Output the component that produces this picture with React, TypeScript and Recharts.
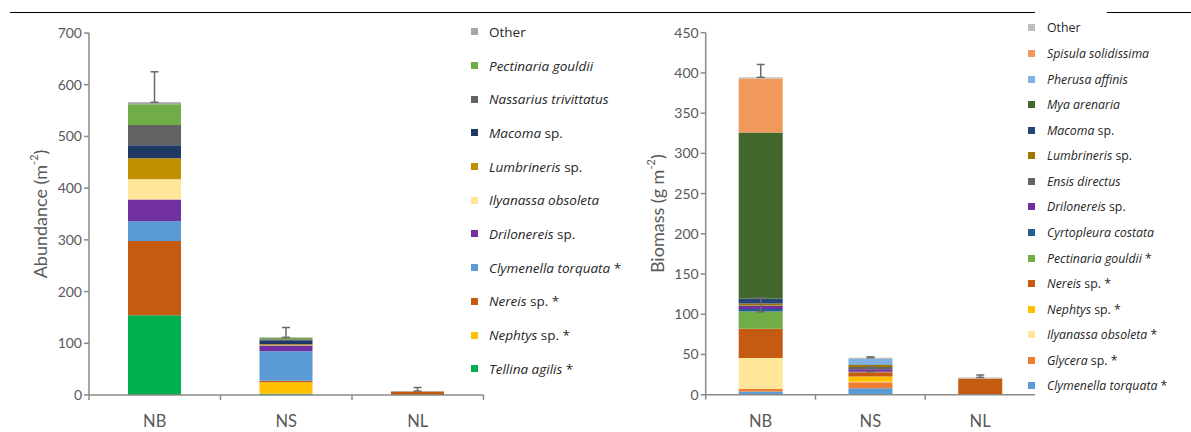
import { Bar, BarChart, ErrorBar, Legend, XAxis, YAxis } from 'recharts'

const FONT = 'Lato, "Open Sans", sans-serif'
const LEGEND_FONT = '"Open Sans", sans-serif'
const AXIS = '#8a8a8a'
const TEXT = '#595959'

const categories = ['NB', 'NS', 'NL']

// abundance (m-2), stacked bottom -> top
const abTellina = [154, 2.5, 0]
const abNephtys = [0, 22, 0]
const abNereis = [144, 3, 7]
const abClymenella = [38, 57, 0]
const abDrilonereis = [42, 11, 0]
const abIlyanassa = [39, 0.5, 0]
const abLumbrineris = [41, 2, 0]
const abMacoma = [25, 8, 0]
const abNassarius = [39, 2, 0]
const abPectinaria = [40, 2.5, 0]
const abOther = [4, 1, 0.5]
const abError = [59, 19, 7]
const abTicks = [0, 100, 200, 300, 400, 500, 600, 700]

// biomass (g m-2), stacked bottom -> top
const bmClymenella = [4, 8, 0]
const bmGlycera = [3, 7.5, 0]
const bmIlyanassa = [38.5, 0.5, 0]
const bmNephtys = [0, 6.5, 0]
const bmNereis = [36.5, 5.5, 20]
const bmPectinaria = [21.5, 0.5, 0]
const bmCyrtopleura = [3, 0, 0]
const bmDrilonereis = [4, 3, 0]
const bmEnsis = [0.5, 3, 0]
const bmLumbrineris = [2.5, 2.5, 0]
const bmMacoma = [6, 0.5, 0]
const bmMya = [206.5, 0, 0]
const bmPherusa = [0, 7, 0]
const bmSpisula = [67, 0, 0]
const bmOther = [1.5, 1.5, 1.5]
const bmError = [16, 1, 3]
const bmInnerError: ([number, number] | null)[] = [[7.5, 10], [3, 3], null]
const bmTicks = [0, 50, 100, 150, 200, 250, 300, 350, 400, 450]

type Series = { key: string; it: string; rest: string; color: string; values: number[] }

const abSeries: Series[] = [
  { key: 'tellina', it: 'Tellina agilis', rest: ' *', color: '#00B050', values: abTellina },
  { key: 'nephtys', it: 'Nephtys', rest: ' sp. *', color: '#FFC000', values: abNephtys },
  { key: 'nereis', it: 'Nereis', rest: ' sp. *', color: '#C55A11', values: abNereis },
  { key: 'clymenella', it: 'Clymenella torquata', rest: ' *', color: '#5B9BD5', values: abClymenella },
  { key: 'drilonereis', it: 'Drilonereis', rest: ' sp.', color: '#7030A0', values: abDrilonereis },
  { key: 'ilyanassa', it: 'Ilyanassa obsoleta', rest: '', color: '#FFE699', values: abIlyanassa },
  { key: 'lumbrineris', it: 'Lumbrineris', rest: ' sp.', color: '#BF9000', values: abLumbrineris },
  { key: 'macoma', it: 'Macoma', rest: ' sp.', color: '#203864', values: abMacoma },
  { key: 'nassarius', it: 'Nassarius trivittatus', rest: '', color: '#636363', values: abNassarius },
  { key: 'pectinaria', it: 'Pectinaria gouldii', rest: '', color: '#70AD47', values: abPectinaria },
  { key: 'other', it: '', rest: 'Other', color: '#A5A5A5', values: abOther },
]

const bmSeries: Series[] = [
  { key: 'clymenella', it: 'Clymenella torquata', rest: ' *', color: '#5B9BD5', values: bmClymenella },
  { key: 'glycera', it: 'Glycera', rest: ' sp. *', color: '#ED7D31', values: bmGlycera },
  { key: 'ilyanassa', it: 'Ilyanassa obsoleta', rest: ' *', color: '#FFE699', values: bmIlyanassa },
  { key: 'nephtys', it: 'Nephtys', rest: ' sp. *', color: '#FFC000', values: bmNephtys },
  { key: 'nereis', it: 'Nereis', rest: ' sp. *', color: '#C55A11', values: bmNereis },
  { key: 'pectinaria', it: 'Pectinaria gouldii', rest: ' *', color: '#70AD47', values: bmPectinaria },
  { key: 'cyrtopleura', it: 'Cyrtopleura costata', rest: '', color: '#255E91', values: bmCyrtopleura },
  { key: 'drilonereis', it: 'Drilonereis', rest: ' sp.', color: '#7030A0', values: bmDrilonereis },
  { key: 'ensis', it: 'Ensis directus', rest: '', color: '#636363', values: bmEnsis },
  { key: 'lumbrineris', it: 'Lumbrineris', rest: ' sp.', color: '#9E7700', values: bmLumbrineris },
  { key: 'macoma', it: 'Macoma', rest: ' sp.', color: '#264478', values: bmMacoma },
  { key: 'mya', it: 'Mya arenaria', rest: '', color: '#43682B', values: bmMya },
  { key: 'pherusa', it: 'Pherusa affinis', rest: '', color: '#7EB2E4', values: bmPherusa },
  { key: 'spisula', it: 'Spisula solidissima', rest: '', color: '#F0995B', values: bmSpisula },
  { key: 'other', it: '', rest: 'Other', color: '#BFBFBF', values: bmOther },
]

const abData = categories.map((site, i) => {
  const row: Record<string, any> = { site, err: [0, abError[i]] }
  abSeries.forEach((s) => (row[s.key] = s.values[i]))
  return row
})

const bmData = categories.map((site, i) => {
  const row: Record<string, any> = { site, err: [0, bmError[i]], inner: bmInnerError[i] }
  bmSeries.forEach((s) => (row[s.key] = s.values[i]))
  return row
})

const makeTick = (band: number, endTick: boolean) => (props: any) => {
  const { x, y, payload, index } = props
  return (
    <g>
      <line x1={x - band / 2} x2={x - band / 2} y1={y - 5} y2={y} stroke={AXIS} strokeWidth={1.5} />
      {endTick && index === categories.length - 1 && (
        <line x1={x + band / 2} x2={x + band / 2} y1={y - 5} y2={y} stroke={AXIS} strokeWidth={1.5} />
      )}
      <text x={x} y={y + 27} textAnchor="middle" fill={TEXT} fontSize={16.5} fontFamily={FONT}>
        {payload.value}
      </text>
    </g>
  )
}

const axisTitle = (main: string, cx: number) => (props: any) => {
  const vb = props.viewBox
  const cy = vb.y + vb.height / 2
  return (
    <text
      x={cx}
      y={cy}
      transform={`rotate(-90 ${cx} ${cy})`}
      textAnchor="middle"
      dominantBaseline="central"
      fill={TEXT}
      fontSize={18}
      fontFamily={FONT}
    >
      {main}
      <tspan fontSize={11} dy={-7}>-2</tspan>
      <tspan dy={7}>)</tspan>
    </text>
  )
}

const legendBox = (series: Series[], rowH: number, fontSize: number, gap: number) => () => (
  <div style={{ fontFamily: LEGEND_FONT, fontSize, color: '#262626', whiteSpace: 'nowrap' }}>
    {[...series].reverse().map((s) => (
      <div key={s.key} style={{ height: rowH, display: 'flex', alignItems: 'center' }}>
        <span style={{ width: 7, height: 7, background: s.color, display: 'inline-block', marginRight: gap, flexShrink: 0 }} />
        <span>
          {s.it && <i>{s.it}</i>}
          {s.rest}
        </span>
      </div>
    ))}
  </div>
)

export default function App() {
  return (
    <div style={{ position: 'absolute', left: 0, top: 0, width: 1191, height: 432, background: '#fff' }}>
      <div style={{ position: 'absolute', left: 10, top: 11.5, width: 1025, height: 1.6, background: '#000' }} />
      <div style={{ position: 'absolute', left: 1107, top: 11.5, width: 84, height: 1.6, background: '#000' }} />

      <div style={{ position: 'absolute', left: 0, top: 0 }}>
        <BarChart width={640} height={432} data={abData} margin={{ top: 33, right: 156.5, left: 0, bottom: 0 }}>
          <XAxis
            dataKey="site"
            height={37}
            axisLine={{ stroke: AXIS, strokeWidth: 1.5 }}
            tickLine={false}
            tickSize={5}
            tickMargin={0}
            tick={makeTick(394.5 / 3, true)}
          />
          <YAxis
            width={89}
            domain={[0, 700]}
            ticks={abTicks}
            axisLine={{ stroke: AXIS, strokeWidth: 1.5 }}
            tickLine={{ stroke: AXIS, strokeWidth: 1.5 }}
            tickSize={5}
            tick={{ fill: TEXT, fontSize: 14, fontFamily: FONT }}
            label={{ content: axisTitle('Abundance (m', 40) }}
          />
          {abSeries.map((s) => (
            <Bar key={s.key} dataKey={s.key} stackId="a" fill={s.color} barSize={53} isAnimationActive={false}>
              {s.key === 'other' && (
                <ErrorBar dataKey="err" direction="y" width={4} stroke="#6a6a6a" strokeWidth={1.5} isAnimationActive={false} />
              )}
            </Bar>
          ))}
          <Legend
            layout="vertical"
            align="center"
            verticalAlign="middle"
            content={legendBox(abSeries, 33.7, 13.5, 11)}
            wrapperStyle={{ left: 471, top: 15, width: 168 }}
          />
        </BarChart>
      </div>

      <div style={{ position: 'absolute', left: 640, top: 0 }}>
        <BarChart width={551} height={432} data={bmData} margin={{ top: 32.7, right: 156, left: 0, bottom: 0 }}>
          <XAxis
            dataKey="site"
            height={37.3}
            axisLine={{ stroke: AXIS, strokeWidth: 1.5 }}
            tickLine={false}
            tickSize={5}
            tickMargin={0}
            tick={makeTick(329.3 / 3, false)}
          />
          <YAxis
            width={65.7}
            domain={[0, 450]}
            ticks={bmTicks}
            axisLine={{ stroke: AXIS, strokeWidth: 1.5 }}
            tickLine={{ stroke: AXIS, strokeWidth: 1.5 }}
            tickSize={5}
            tick={{ fill: TEXT, fontSize: 14, fontFamily: FONT }}
            label={{ content: axisTitle('Biomass (g m', 17) }}
          />
          {bmSeries.map((s) => (
            <Bar key={s.key} dataKey={s.key} stackId="b" fill={s.color} barSize={44} isAnimationActive={false}>
              {s.key === 'other' && (
                <ErrorBar dataKey="err" direction="y" width={4} stroke="#6a6a6a" strokeWidth={1.5} isAnimationActive={false} />
              )}
              {s.key === 'drilonereis' && (
                <ErrorBar dataKey="inner" direction="y" width={4} stroke="#6a6a6a" strokeWidth={1.5} isAnimationActive={false} />
              )}
            </Bar>
          ))}
          <Legend
            layout="vertical"
            align="center"
            verticalAlign="middle"
            content={legendBox(bmSeries, 25.57, 12.3, 12)}
            wrapperStyle={{ left: 388, top: 15.2, width: 160 }}
          />
        </BarChart>
      </div>
    </div>
  )
}
